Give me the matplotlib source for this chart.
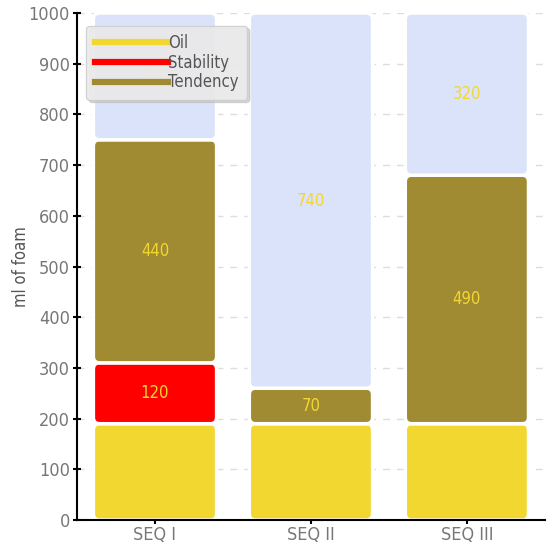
import matplotlib
matplotlib.use("Agg")
import matplotlib.pyplot as plt
import numpy as np
from matplotlib import font_manager
from matplotlib.patches import FancyBboxPatch

categories = ["SEQ I", "SEQ II", "SEQ III"]
oil = [190, 190, 190]
stability = [120, 0, 0]
tendency = [440, 70, 490]
remainder = [250, 740, 320]

# pick a narrow font if there is one, else Roboto
narrow = None
for f in font_manager.fontManager.ttflist:
    fn = f.fname.lower()
    if ("narrow" in fn or "condensed" in fn) and "bold" not in fn and "italic" not in fn \
            and "oblique" not in fn and "mono" not in fn and "serif" not in f.name.lower():
        narrow = f.name
        break
if narrow is not None:
    plt.rcParams["font.family"] = [narrow, "DejaVu Sans"]
    plt.rcParams["font.stretch"] = "condensed"
else:
    plt.rcParams["font.family"] = ["Roboto", "DejaVu Sans"]

fig = plt.figure(figsize=(5.56, 5.49), dpi=100)
ax = fig.add_axes([0.1385, 0.0528, 0.8415, 0.9235])
ax.set_xlim(-0.5, 2.5)
ax.set_ylim(0, 1000)

x = np.arange(len(categories))
w = 0.79
bottom = np.zeros(len(categories))
series = [
    ("Oil", oil, "#f2d731", True),
    ("Stability", stability, "#ff0000", True),
    ("Tendency", tendency, "#a08a32", True),
    (None, remainder, "#dbe3fa", False),
]
# pixels per data unit, to keep rounded corners round
px_x = 0.8415 * 556 / 3.0
px_y = 0.9235 * 549 / 1000.0
for name, vals, color, in_legend in series:
    vals = np.array(vals, dtype=float)
    bars = ax.bar(x, vals, w, bottom=bottom, color=color)
    for r in bars:
        if r.get_height() > 0:
            p = FancyBboxPatch((r.get_x(), r.get_y()), r.get_width(), r.get_height(),
                               boxstyle="round,pad=0,rounding_size=0.04",
                               mutation_aspect=px_x / px_y, facecolor=color,
                               edgecolor="white", linewidth=2.5, zorder=2)
            ax.add_patch(p)
        r.remove()
    for xi, b, v in zip(x, bottom, vals):
        if v > 0 and name != "Oil":
            ax.text(xi, b + v / 2, f"{int(v)}", ha="center", va="center",
                    color="#f2d731", fontsize=12, zorder=3)
    bottom += vals

handles = [plt.Line2D([], [], color=c, lw=4.5) for n, v, c, l in series if l]
labels = [n for n, v, c, l in series if l]
leg = ax.legend(handles, labels, loc="upper left", bbox_to_anchor=(0.02, 0.975),
                borderaxespad=0, fontsize=12, handlelength=4.4, handletextpad=0.0,
                labelspacing=0.1, borderpad=0.5, fancybox=True,
                shadow={"color": "#bbbbbb", "alpha": 0.6, "ox": 2, "oy": -2},
                framealpha=0.85, facecolor="#eeeeee", edgecolor="#cccccc")
for t in leg.get_texts():
    t.set_color("#555555")
leg.set_zorder(5)

ax.set_yticks(np.arange(0, 1001, 100))
ax.set_xticks(x)
ax.set_xticklabels(categories)
ax.set_ylabel("ml of foam", color="#555555", fontsize=12)
ax.yaxis.set_label_coords(-0.1, 0.5)
ax.yaxis.grid(True, linestyle=(0, (5, 5)), color="#dddddd", linewidth=1, zorder=0)
ax.set_axisbelow(True)
for s in ["top", "right"]:
    ax.spines[s].set_visible(False)
ax.spines["left"].set_linewidth(1.5)
ax.spines["bottom"].set_linewidth(1.5)
ax.tick_params(axis="both", colors="black", labelcolor="#777777", labelsize=13,
               length=6, width=1.5, direction="inout")
ax.tick_params(axis="x", pad=1)
ax.tick_params(axis="y", pad=2)

fig.savefig("out.png", dpi=100)
